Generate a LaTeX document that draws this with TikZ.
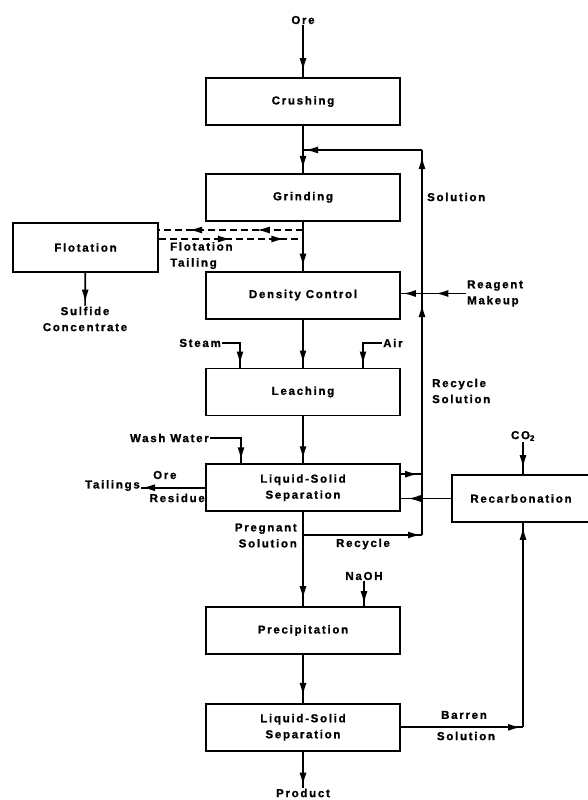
\documentclass[tikz,border=0pt]{standalone}
\usepackage{fontspec}
\setmainfont{Liberation Sans}[LetterSpace=15, BoldFeatures={FakeBold=1.2}]
\usetikzlibrary{shapes,arrows.meta,positioning,decorations.markings}

\begin{document}
\begin{tikzpicture}[x=1pt, y=-1pt,
    every node/.style={font=\fontsize{11.5}{16}\selectfont\bfseries},
    stage/.style={rectangle, draw, line width=1.8pt, minimum width=194pt, minimum height=47pt, align=center, inner sep=0pt},
    pipe/.style={line width=1.7pt},
    dashline/.style={line width=1.5pt, dash pattern=on 7pt off 4pt},
    lbl/.style={inner sep=1pt},
    flowtip/.style={postaction={decorate}, decoration={markings, mark=at position #1 with {\arrow{Latex[length=13pt,width=7pt]}}}},
    twotips/.style 2 args={postaction={decorate}, decoration={markings,
        mark=at position #1 with {\arrow{Latex[length=13pt,width=7pt]}},
        mark=at position #2 with {\arrow{Latex[length=13pt,width=7pt]}}}}]

    \useasboundingbox (0,0) rectangle (588,800);

    %-----Main line-----
    % Ore feed
    \node[lbl] (ore) at (303,20) {Ore};

    % Crushing
    \node[stage] (crush) at (303,101.5) {Crushing};

    % Grinding
    \node[stage, below=47pt of crush] (grind) {Grinding};

    % Density Control
    \node[stage, below=49pt of grind] (dens) {Density Control};

    % Leaching
    \node[stage, below=48pt of dens] (leach) {Leaching};

    % first Liquid-Solid Separation
    \node[stage, below=47pt of leach] (sep1) {Liquid-Solid\\Separation};

    % Precipitation
    \node[stage, below=94pt of sep1] (precip) {Precipitation};

    % second Liquid-Solid Separation
    \node[stage, below=48pt of precip] (sep2) {Liquid-Solid\\Separation};

    %-----Side steps-----
    % Flotation
    \node[stage, minimum width=145pt, minimum height=49pt] (flot) at (85.5,247.5) {Flotation};

    % Recarbonation
    \node[stage, minimum width=138pt] (recarb) at (521,498.5) {Recarbonation};

    %-----Labels-----
    \node[lbl, align=center] (sulf) at (85,319) {Sulfide\\Concentrate};
    \node[lbl, align=left, anchor=north west] (ftail) at (169,241) {Flotation\\Tailing};
    \node[lbl, anchor=west] (sol) at (426,197) {Solution};
    \node[lbl, align=left, anchor=west] (reag) at (466,293.5) {Reagent\\Makeup};
    \node[lbl, anchor=east] (steam) at (222,343) {Steam};
    \node[lbl, anchor=west] (air) at (382,343) {Air};
    \node[lbl, align=left, anchor=west] (recsol) at (431,391) {Recycle\\Solution};
    \node[lbl, anchor=east] (wash) at (210,438) {Wash Water};
    \node[lbl] (co2) at (523,436) {CO\textsubscript{2}};
    \node[lbl, anchor=east] (tail) at (141,485.5) {Tailings};
    \node[lbl, anchor=west] (orel) at (152,475) {Ore};
    \node[lbl, anchor=east] (resid) at (206,498) {Residue};
    \node[lbl, align=right, anchor=east] (pregl) at (298,535.5) {Pregnant\\Solution};
    \node[lbl] (recl) at (363,544) {Recycle};
    \node[lbl] (naoh) at (364,576) {NaOH};
    \node[lbl] (barl) at (464,715) {Barren};
    \node[lbl] (barsol) at (466,736) {Solution};
    \node[lbl] (prod) at (303,793) {Product};

    %-----Points on the recycle line-----
    \coordinate (rtop) at (422,150);
    \coordinate (rmak) at (dens.east -| rtop);
    \coordinate (rbot) at (422,535);
    \coordinate (preg) at (sep1.south |- rbot);
    \coordinate (s1out) at ([yshift=13.5pt]sep1.east);
    \coordinate (fup) at (303,230);
    \coordinate (fdn) at (303,239);
    \coordinate (bcorner) at (co2 |- sep2.east);

    %-----Flows-----
    \draw[pipe, flowtip=-6pt] (ore) -- (crush);
    \draw[pipe, flowtip=-4pt] (crush) -- (grind);
    \draw[pipe, flowtip=-4pt] (grind) -- (dens);
    \draw[pipe, flowtip=-4pt] (dens) -- (leach);
    \draw[pipe, flowtip=-4pt] (leach) -- (sep1);
    \draw[pipe, flowtip=-7pt] (sep1) -- (precip);
    \draw[pipe, flowtip=-7pt] (precip) -- (sep2);
    \draw[pipe, flowtip=-2pt] (sep2) -- (prod);

    % recycle solution
    \draw[pipe, flowtip=-1pt] (preg) -- (rbot);
    \draw[pipe, flowtip=-9pt] (rbot) -- (rmak);
    \draw[pipe, flowtip=-6pt] (rmak) -- (rtop);
    \draw[pipe, flowtip=-2pt] (rtop) -- (rtop -| crush.south);
    \draw[pipe, flowtip=-4pt] (s1out) -- (s1out -| rtop);

    % flotation
    \draw[dashline, twotips={0.32}{0.79}] (fup) -- (fup -| flot.east);
    \draw[dashline, twotips={0.5}{0.87}] (fdn -| flot.east) -- (fdn);
    \draw[pipe, flowtip=-3pt] (flot) -- (sulf);

    % reagents
    \draw[pipe, twotips={0.47}{-2pt}] (reag.west) -- (reag.west -| dens.east);
    \draw[pipe, flowtip=-3pt] (steam.east) -| ([xshift=-63pt]leach.north);
    \draw[pipe, flowtip=-3pt] (air.west) -| ([xshift=60pt]leach.north);
    \draw[pipe, flowtip=-3pt] (wash.east) -| ([xshift=-62pt]sep1.north);
    \draw[pipe, flowtip=-1pt] (sep1.west) -- (sep1.west -| tail.east);
    \draw[pipe, flowtip=-2pt] (naoh) -- (naoh |- precip.north);

    % barren solution and recarbonation
    \draw[pipe, flowtip=-2pt] (sep2.east) -- (bcorner);
    \draw[pipe, flowtip=-4pt] (bcorner) -- (bcorner |- recarb.south);
    \draw[pipe, flowtip=-6pt] (co2) -- (co2 |- recarb.north);
    \draw[pipe, flowtip=-7pt] (recarb.west) -- (recarb.west -| sep1.east);

\end{tikzpicture}
\end{document}
